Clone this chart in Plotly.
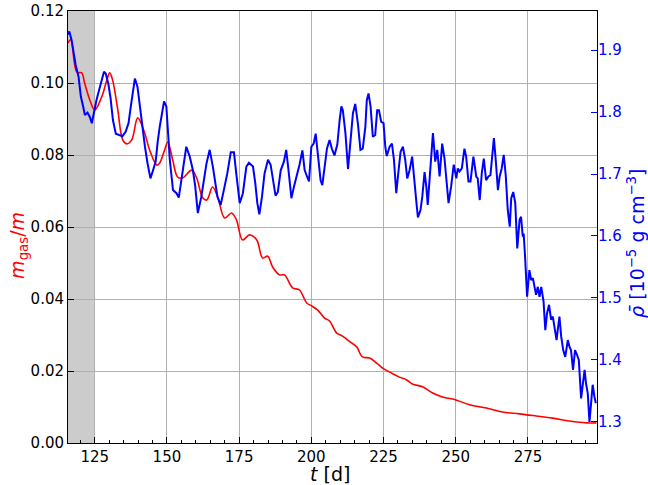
import plotly.graph_objects as go

# gas mass fraction (left axis)
t_gas = [115.7, 116.7, 118.8, 120.5, 121.5, 123.3, 125.0, 127.4, 129.2, 130.2,
         131.2, 133.0, 134.7, 136.1, 137.8, 139.9, 142.3, 144.0, 146.5, 147.5,
         149.2, 150.3, 152.0, 153.7, 155.4, 158.6, 160.3, 162.4, 163.8, 165.8,
         167.6, 170.0, 172.4, 174.1, 176.2, 178.6, 181.1, 183.1, 184.9, 186.6,
         189.0, 190.7, 193.5, 195.9, 198.4, 200.1, 202.2, 204.6, 206.3, 208.7,
         210.8, 213.9, 215.7, 217.7, 220.2, 222.6, 224.7, 227.8, 230.5, 233.0,
         235.0, 238.5, 242.0, 245.4, 250.3, 254.8, 260.6, 266.2, 272.1, 277.9,
         283.5, 289.4, 295.2, 298.7]
m_gas = [0.1111, 0.1120, 0.1030, 0.1028, 0.1000, 0.0953, 0.0925, 0.0961, 0.1008, 0.1028,
         0.1008, 0.0925, 0.0842, 0.0831, 0.0842, 0.0903, 0.0861, 0.0814, 0.0772, 0.0778,
         0.0814, 0.0836, 0.0786, 0.0739, 0.0736, 0.0758, 0.0736, 0.0681, 0.0675, 0.0711,
         0.0683, 0.0625, 0.0639, 0.0619, 0.0564, 0.0578, 0.0564, 0.0514, 0.0519, 0.0489,
         0.0467, 0.0467, 0.0431, 0.0425, 0.0389, 0.0381, 0.0369, 0.0347, 0.0339, 0.0306,
         0.0297, 0.0278, 0.0267, 0.0239, 0.0236, 0.0222, 0.0208, 0.0194, 0.0183, 0.0175,
         0.0164, 0.0156, 0.0139, 0.0128, 0.0119, 0.0106, 0.0097, 0.0086, 0.0081, 0.0075,
         0.0069, 0.0061, 0.0056, 0.0056]

# mean density (right axis), 1e-5 g cm^-3
t_rho = [115.7, 116.2, 117.0, 117.8, 118.4, 119.4, 120.2, 121.0, 121.6, 122.5,
         123.3, 124.0, 124.8, 125.6, 126.5, 127.4, 128.2, 128.8, 129.7, 130.5,
         131.3, 132.3, 133.4, 134.6, 135.7, 136.7, 137.5, 138.3, 138.9, 139.8,
         140.6, 141.5, 142.4, 143.3, 144.3, 145.2, 146.1, 146.8, 147.5, 149.0,
         149.8, 151.0, 152.1, 153.3, 154.1, 155.0, 156.7, 157.9, 159.0, 159.8,
         160.7, 161.9, 163.7, 164.8, 165.9, 167.5, 168.6, 169.7, 170.9, 172.1,
         173.2, 174.0, 175.2, 176.3, 177.5, 178.4, 179.8, 180.6, 181.3, 182.0,
         182.9, 183.8, 185.0, 185.9, 186.7, 187.6, 188.4, 189.4, 190.5, 191.3,
         192.1, 193.1, 194.0, 194.8, 195.9, 196.9, 197.7, 198.5, 199.2, 200.0,
         200.8, 201.5, 202.3, 203.2, 203.8, 204.6, 205.4, 206.3, 207.1, 208.0,
         209.0, 209.8, 210.4, 210.9, 211.8, 212.7, 213.6, 214.4, 215.2, 216.1,
         217.0, 217.8, 218.7, 219.2, 219.8, 220.5, 221.3, 222.1, 222.8, 223.4,
         224.2, 225.0, 225.6, 226.1, 227.1, 227.9, 228.6, 229.4, 230.2, 230.9,
         231.7, 232.5, 233.2, 234.0, 234.9, 235.7, 236.4, 236.9, 237.8, 238.4,
         239.2, 239.8, 240.3, 240.6, 241.3, 242.1, 242.9, 243.6, 244.4, 245.3,
         246.1, 246.7, 247.5, 248.4, 249.3, 250.2, 250.7, 251.3, 252.1, 253.0,
         253.6, 254.4, 255.1, 256.1, 257.1, 257.6, 258.3, 259.0, 259.7, 260.5,
         261.3, 262.0, 262.6, 263.2, 263.8, 264.6, 265.2, 265.9, 266.6, 267.3,
         268.0, 268.7, 269.2, 269.9, 270.6, 271.3, 272.1, 272.6, 273.2, 273.5,
         274.0, 274.7, 275.5, 276.1, 276.7, 277.2, 277.8, 278.4, 279.0, 279.6,
         280.4, 281.0, 281.6, 282.3, 283.0, 283.6, 284.2, 284.9, 285.3, 285.9,
         286.5, 287.2, 287.9, 288.3, 288.8, 289.4, 289.9, 290.6, 291.3, 292.0,
         292.6, 293.4, 294.1, 294.6, 295.1, 295.7, 296.3, 296.9, 297.4, 298.0,
         298.5]
rho = [1.925, 1.930, 1.916, 1.889, 1.876, 1.857, 1.825, 1.809, 1.795, 1.799,
       1.792, 1.782, 1.803, 1.819, 1.835, 1.852, 1.865, 1.862, 1.846, 1.822,
       1.787, 1.765, 1.763, 1.761, 1.768, 1.782, 1.809, 1.838, 1.854, 1.841,
       1.809, 1.776, 1.744, 1.717, 1.693, 1.706, 1.720, 1.752, 1.776, 1.817,
       1.809, 1.723, 1.674, 1.669, 1.662, 1.690, 1.744, 1.728, 1.706, 1.680,
       1.637, 1.663, 1.717, 1.739, 1.712, 1.663, 1.650, 1.674, 1.701, 1.735,
       1.735, 1.701, 1.653, 1.669, 1.712, 1.718, 1.712, 1.685, 1.653, 1.635,
       1.663, 1.701, 1.723, 1.715, 1.690, 1.665, 1.671, 1.706, 1.720, 1.739,
       1.706, 1.661, 1.680, 1.693, 1.715, 1.738, 1.706, 1.696, 1.688, 1.744,
       1.749, 1.765, 1.728, 1.690, 1.682, 1.712, 1.741, 1.755, 1.741, 1.730,
       1.748, 1.787, 1.809, 1.803, 1.766, 1.708, 1.755, 1.798, 1.813, 1.782,
       1.739, 1.741, 1.776, 1.819, 1.830, 1.809, 1.760, 1.763, 1.803, 1.803,
       1.784, 1.782, 1.744, 1.729, 1.744, 1.749, 1.723, 1.669, 1.706, 1.736,
       1.744, 1.723, 1.693, 1.706, 1.728, 1.680, 1.653, 1.630, 1.642, 1.663,
       1.703, 1.680, 1.650, 1.670, 1.712, 1.766, 1.720, 1.739, 1.696, 1.749,
       1.725, 1.696, 1.653, 1.680, 1.715, 1.693, 1.709, 1.704, 1.709, 1.741,
       1.728, 1.688, 1.688, 1.728, 1.696, 1.693, 1.658, 1.701, 1.725, 1.690,
       1.696, 1.698, 1.728, 1.758, 1.725, 1.674, 1.696, 1.709, 1.731, 1.698,
       1.642, 1.615, 1.661, 1.671, 1.653, 1.580, 1.626, 1.631, 1.599, 1.604,
       1.567, 1.502, 1.545, 1.529, 1.532, 1.518, 1.505, 1.518, 1.502, 1.518,
       1.494, 1.448, 1.475, 1.489, 1.465, 1.470, 1.454, 1.432, 1.448, 1.470,
       1.438, 1.416, 1.405, 1.421, 1.432, 1.421, 1.416, 1.384, 1.416, 1.408,
       1.400, 1.338, 1.362, 1.384, 1.362, 1.346, 1.300, 1.330, 1.360, 1.341,
       1.330]

x_range = [115.75, 298.9]
x_ticks = [125, 150, 175, 200, 225, 250, 275]
shade_end = 125

font = 'DejaVu Sans'
grid = '#b0b0b0'

fig = go.Figure()

fig.add_shape(type='rect', xref='x', yref='paper', x0=x_range[0], x1=shade_end, y0=0, y1=1,
              fillcolor='#cccccc', line_width=0, layer='below')

fig.add_trace(go.Scatter(x=t_gas, y=m_gas, mode='lines', line=dict(color='red', width=1.6, shape='spline'),
                         showlegend=False))
fig.add_trace(go.Scatter(x=t_rho, y=rho, mode='lines', line=dict(color='blue', width=2), yaxis='y2',
                         showlegend=False))

# axis titles as annotations so they sit where the reference has them
titles = [
    ('<i>t</i> [d]', 0.495, -0.072, 0, 'black'),
    ('<i>m</i><sub>gas</sub>/<i>m</i>', -0.095, 0.458, -90, 'red'),
    ('<i>ρ̄</i> [10<sup>−5</sup> g cm<sup>−3</sup>]', 1.0737, 0.463, -90, 'blue'),
]
for text, x, y, angle, color in titles:
    fig.add_annotation(text=text, xref='paper', yref='paper', x=x, y=y, xanchor='center', yanchor='middle',
                       textangle=angle, showarrow=False, font=dict(size=19, color=color))

fig.update_layout(
    width=648, height=485,
    margin=dict(l=68, r=51, t=11, b=42),
    plot_bgcolor='white', paper_bgcolor='white',
    font=dict(family=font, size=15, color='black'),
    xaxis=dict(range=x_range, tickvals=x_ticks, ticks='inside', ticklen=6, tickcolor='black',
               minor=dict(dtick=5, tick0=0, ticks='inside', ticklen=3, tickcolor='black', showgrid=False),
               showgrid=True, gridcolor=grid, gridwidth=1, zeroline=False,
               showline=True, linecolor='black', linewidth=1, mirror=True, automargin=False),
    yaxis=dict(range=[0, 0.12], dtick=0.02, tickformat='.2f', ticks='inside', ticklen=6, tickcolor='black',
               showgrid=True, gridcolor=grid, gridwidth=1, zeroline=False, ticklabeloverflow='allow',
               showline=True, linecolor='black', linewidth=1, mirror=True, automargin=False),
    yaxis2=dict(overlaying='y', side='right', range=[1.266, 1.963], dtick=0.1, tickformat='.1f',
                ticks='inside', ticklen=6, tickcolor='blue', tickfont=dict(color='blue'),
                showgrid=False, zeroline=False, showline=False, automargin=False),
)

# drop the browser's default 8px body margin so the figure fills the window exactly
fig.write_html('out.html', config={'displayModeBar': False},
               post_script="document.body.style.margin='0';")
